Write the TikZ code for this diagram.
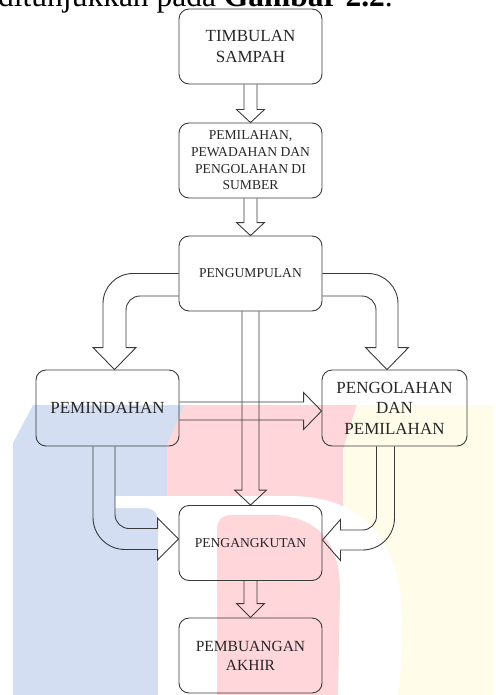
\documentclass[tikz,border=0pt]{standalone}
\usepackage{fontspec}
\setmainfont{Liberation Serif}
\usetikzlibrary{positioning,calc}

\definecolor{linegray}{HTML}{3A3A3A}
\definecolor{wmblue}{HTML}{D3DEF2}
\definecolor{wmred}{HTML}{FFD6DA}
\definecolor{wmyellow}{HTML}{FFFDEA}

\tikzset{
  stage/.style={draw=linegray, line width=0.9pt, rounded corners=10pt,
    minimum width=143pt, minimum height=75pt, inner sep=0pt,
    align=center, text=black!85},
  bigtext/.style={font=\fontsize{17}{20.5}\selectfont},
  smalltext/.style={font=\fontsize{13.6}{16.7}\selectfont},
  blockline/.style={draw=linegray, line width=0.9pt},
}

\begin{document}
\begin{tikzpicture}[x=1pt, y=-1pt]
    \useasboundingbox (0,0) rectangle (495,695);

    % watermark behind the chart
    \fill[wmblue] (13,443) -- (33,405) -- (185,405) -- (167,445) -- (167,695) -- (13,695) -- cycle;
    \fill[wmred] (167,445) -- (185,405) -- (357,405) -- (343,450) -- (343,695) -- (167,695) -- cycle;
    \fill[wmyellow] (343,450) -- (357,405) -- (493,405) -- (493,695) -- (343,695) -- cycle;
    \fill[white] (115,496) -- (290,496) .. controls (370,496) and (402,550) .. (402,620)
        .. controls (402,660) and (399,690) .. (398,695) -- (158,695) -- (158,523)
        .. controls (158,512) and (154,508) .. (143,508) -- (115,508) -- cycle;
    \fill[wmred] (217,695) -- (217,530) .. controls (217,520) and (222,515) .. (232,515) -- (270,515)
        .. controls (320,515) and (340,545) .. (340,590) -- (338,695) -- cycle;

    % line of text cut at the top
    \begin{scope}
      \clip (0,0) rectangle (495,695);
      \node[anchor=base east, inner sep=0pt, font=\fontsize{31.5}{36}\selectfont] (caption) at (393,6.8)
        {ditunjukkan pada \textbf{Gambar 2.2}.};
    \end{scope}

    \node[stage, bigtext] (timbulan) at (250.5,46.5) {TIMBULAN\\SAMPAH};
    \node[stage, smalltext] (pemilahan) at (250.5,160.5) {PEMILAHAN,\\PEWADAHAN DAN\\PENGOLAHAN DI\\SUMBER};
    \node[stage, smalltext] (pengumpulan) at (250.5,273.5) {PENGUMPULAN};
    \node[stage, bigtext, minimum height=76pt] (pemindahan) at (107.5,408) {PEMINDAHAN};
    \node[stage, bigtext, minimum width=145pt, minimum height=76pt] (pengolahan) at (394.5,408) {PENGOLAHAN\\DAN\\PEMILAHAN};
    \node[stage, smalltext] (pengangkutan) at (250.5,543) {PENGANGKUTAN};
    \node[stage, font=\fontsize{15.5}{19}\selectfont] (pembuangan) at (250.5,655.5) {PEMBUANGAN\\AKHIR};

    % straight block arrows
    \draw[blockline] ($(timbulan.south)+(-6.5,0)$) -- ($(pemilahan.north)+(-6.5,-13)$) -- ($(pemilahan.north)+(-14,-13)$)
        -- (pemilahan.north) -- ($(pemilahan.north)+(14,-13)$) -- ($(pemilahan.north)+(6.5,-13)$) -- ($(timbulan.south)+(6.5,0)$);
    \draw[blockline] ($(pemilahan.south)+(-6.5,0)$) -- ($(pengumpulan.north)+(-6.5,-13)$) -- ($(pengumpulan.north)+(-14,-13)$)
        -- (pengumpulan.north) -- ($(pengumpulan.north)+(14,-13)$) -- ($(pengumpulan.north)+(6.5,-13)$) -- ($(pemilahan.south)+(6.5,0)$);
    \draw[blockline] ($(pengangkutan.south)+(-6.5,0)$) -- ($(pembuangan.north)+(-6.5,-14)$) -- ($(pembuangan.north)+(-14,-14)$)
        -- (pembuangan.north) -- ($(pembuangan.north)+(14,-14)$) -- ($(pembuangan.north)+(6.5,-14)$) -- ($(pengangkutan.south)+(6.5,0)$);
    \draw[blockline] ($(pengumpulan.south)+(-8.5,0)$) -- ($(pengangkutan.north)+(-8.5,-15)$) -- ($(pengangkutan.north)+(-16,-15)$)
        -- (pengangkutan.north) -- ($(pengangkutan.north)+(16,-15)$) -- ($(pengangkutan.north)+(8.5,-15)$) -- ($(pengumpulan.south)+(8.5,0)$);
    \draw[blockline] ($(pemindahan.east)+(0,-6)$) -- ($(pengolahan.west)+(-18,-6)$) -- ($(pengolahan.west)+(-18,-15.5)$)
        -- ($(pengolahan.west)+(0,3)$) -- ($(pengolahan.west)+(-18,21.5)$) -- ($(pengolahan.west)+(-18,12)$) -- ($(pemindahan.east)+(0,12)$);

    % bent block arrows
    \coordinate (tipL) at ($(pemindahan.north)+(7,0)$);
    \draw[blockline, rounded corners=30pt] (pengumpulan.west) -| ($(tipL)+(-11.5,-22)$);
    \draw[blockline, rounded corners=14pt] ($(pengumpulan.west)+(0,22.5)$) -| ($(tipL)+(11.5,-22)$);
    \draw[blockline] ($(tipL)+(-11.5,-22)$) -- ($(tipL)+(-21.5,-22)$) -- (tipL) -- ($(tipL)+(21.5,-22)$) -- ($(tipL)+(11.5,-22)$);

    \coordinate (tipR) at ($(pengolahan.north)+(-7.5,0)$);
    \draw[blockline, rounded corners=30pt] (pengumpulan.east) -| ($(tipR)+(11,-22)$);
    \draw[blockline, rounded corners=14pt] ($(pengumpulan.east)+(0,22.5)$) -| ($(tipR)+(-11,-22)$);
    \draw[blockline] ($(tipR)+(11,-22)$) -- ($(tipR)+(21.5,-22)$) -- (tipR) -- ($(tipR)+(-21.5,-22)$) -- ($(tipR)+(-11,-22)$);

    \coordinate (tipBL) at ($(pengangkutan.west)+(0,-4)$);
    \draw[blockline, rounded corners=32pt] ($(pemindahan.south)+(-14.5,0)$) |- ($(tipBL)+(-21,10.5)$);
    \draw[blockline, rounded corners=14pt] ($(pemindahan.south)+(7.5,0)$) |- ($(tipBL)+(-21,-10.5)$);
    \draw[blockline] ($(tipBL)+(-21,-10.5)$) -- ($(tipBL)+(-21,-21)$) -- (tipBL) -- ($(tipBL)+(-21,21)$) -- ($(tipBL)+(-21,10.5)$);

    \coordinate (tipBR) at ($(pengangkutan.east)+(0,-3)$);
    \draw[blockline, rounded corners=32pt] (pengolahan.south) |- ($(tipBR)+(18,10)$);
    \draw[blockline, rounded corners=14pt] ($(pengolahan.south)+(-18,0)$) |- ($(tipBR)+(18,-10)$);
    \draw[blockline] ($(tipBR)+(18,-10)$) -- ($(tipBR)+(18,-20.5)$) -- (tipBR) -- ($(tipBR)+(18,20.5)$) -- ($(tipBR)+(18,10)$);
\end{tikzpicture}
\end{document}
